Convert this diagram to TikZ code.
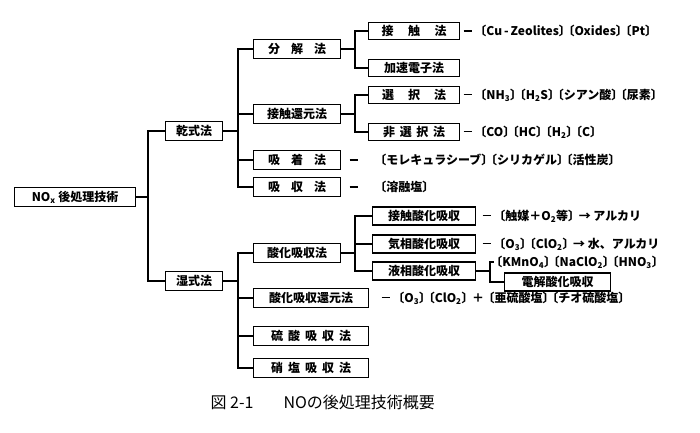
\documentclass[tikz,border=0pt]{standalone}
\usepackage{fontspec}
\setmainfont{Noto Sans CJK JP}
\newcommand{\spread}[2]{\makebox[#1][s]{#2}}
\newcommand{\dsh}{\rule[0.33em]{8pt}{1.2pt}\hspace{7pt}}
\newcommand{\lk}{\hspace{-0.35em}〔}
\newcommand{\rk}{〕\hspace{-0.35em}}

\begin{document}
\begin{tikzpicture}[x=1pt,y=-1pt,line width=1.2pt,
  box/.style={draw,anchor=west,minimum height=19pt,inner sep=0pt,font=\fontsize{12}{14}\selectfont\bfseries},
  lvone/.style={box,minimum width=57pt},
  lvtwo/.style={box,minimum width=87pt},
  lvwide/.style={box,minimum width=115pt},
  lvthree/.style={box,minimum width=91pt,minimum height=17pt},
  lvwet/.style={box,minimum width=103pt,minimum height=18pt},
  note/.style={anchor=west,inner sep=0pt,font=\fontsize{12}{14}\selectfont\bfseries}]
  \useasboundingbox (0,0) rectangle (700,432);
  % boxes
  \node[box,minimum width=121pt] (root) at (14,197) {NO\textsubscript{x} 後処理技術};
  \node[lvone] (dry) at (165,131) {乾式法};
  \node[lvone] (wet) at (165,281) {湿式法};
  \node[lvtwo] (decomp) at (253,49) {\spread{58pt}{分 解 法}};
  \node[lvtwo] (catred) at (253,114) {接触還元法};
  \node[lvtwo] (adsorb) at (253,160) {\spread{58pt}{吸 着 法}};
  \node[lvtwo] (absorb) at (253,187) {\spread{58pt}{吸 収 法}};
  \node[lvthree] (cat) at (368,31) {\spread{65pt}{接 触 法}};
  \node[lvthree] (ebeam) at (368,68) {加速電子法};
  \node[lvthree] (sel) at (368,95) {\spread{64pt}{選 択 法}};
  \node[lvthree] (nonsel) at (368,132) {\spread{62pt}{非 選 択 法}};
  \node[lvtwo] (oxabs) at (253,253) {酸化吸収法};
  \node[lvwide] (oxred) at (253,298) {酸化吸収還元法};
  \node[lvwide] (sulf) at (253,336) {\spread{80pt}{硫 酸 吸 収 法}};
  \node[lvwide] (nitr) at (253,368) {\spread{80pt}{硝 塩 吸 収 法}};
  \node[lvwet] (catox) at (372,216) {接触酸化吸収};
  \node[lvwet] (gasox) at (372,244) {気相酸化吸収};
  \node[lvwet] (liqox) at (372,271) {液相酸化吸収};
  \node[box,minimum width=106pt,minimum height=18pt] (elec) at (504,282) {電解酸化吸収};
  % notes
  \node[note] (catt) at (463,31) {\dsh\lk Cu\,-\,Zeolites\rk\lk Oxides\rk\lk Pt\rk};
  \node[note] (selt) at (463,95) {\dsh\lk NH\textsubscript{3}\rk\lk H\textsubscript{2}S\rk\lk シアン酸\rk\lk 尿素\rk};
  \node[note] (nonselt) at (463,132) {\dsh\lk CO\rk\lk HC\rk\lk H\textsubscript{2}\rk\lk C\rk};
  \node[note] (adsorbt) at (349,160) {\dsh\hspace{14pt}\lk モレキュラシーブ\rk\lk シリカゲル\rk\lk 活性炭\rk};
  \node[note] (absorbt) at (349,187) {\dsh\hspace{14pt}\lk 溶融塩\rk};
  \node[note] (catoxt) at (482,216) {\dsh\lk 触媒＋O\textsubscript{2}等\rk\ → アルカリ};
  \node[note] (gasoxt) at (482,244) {\dsh\lk O\textsubscript{3}\rk\lk ClO\textsubscript{2}\rk\ → 水、アルカリ};
  \node[note] (kmno) at (494,262) {\lk KMnO\textsubscript{4}\rk\lk NaClO\textsubscript{2}\rk\lk HNO\textsubscript{3}\rk};
  \node[note] (oxredt) at (381,298) {\dsh\lk O\textsubscript{3}\rk\lk ClO\textsubscript{2}\rk\ ＋ \lk 亜硫酸塩\rk\lk チオ硫酸塩\rk};
  \node[anchor=west,inner sep=0pt,font=\fontsize{16}{18}\selectfont] (cap) at (210,402) {図 2-1\hspace{30pt}NOの後処理技術概要};
  % buses
  \coordinate (b0) at (148,0);
  \coordinate (b1) at (238,0);
  \coordinate (b2) at (355,0);
  \coordinate (b3) at (490,0);
  \draw (root.east) -- (root.east -| b0) |- (dry.west);
  \draw (root.east -| b0) |- (wet.west);
  \foreach \c in {decomp,catred,adsorb,absorb}
    \draw (dry.east) -- (dry.east -| b1) |- (\c.west);
  \foreach \c in {oxabs,oxred,sulf,nitr}
    \draw (wet.east) -- (wet.east -| b1) |- (\c.west);
  \foreach \c in {cat,ebeam}
    \draw (decomp.east) -- (decomp.east -| b2) |- (\c.west);
  \foreach \c in {sel,nonsel}
    \draw (catred.east) -- (catred.east -| b2) |- (\c.west);
  \foreach \c in {catox,gasox,liqox}
    \draw (oxabs.east) -- (oxabs.east -| b2) |- (\c.west);
  \foreach \c in {kmno,elec}
    \draw (liqox.east) -- (liqox.east -| b3) |- (\c.west);
\end{tikzpicture}
\end{document}
